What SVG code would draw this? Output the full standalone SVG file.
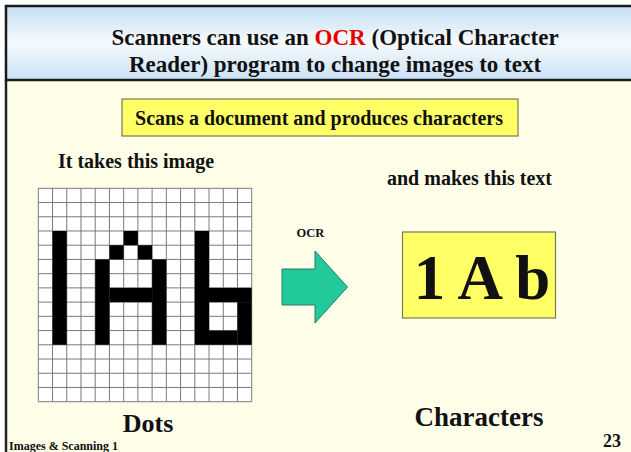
<svg xmlns="http://www.w3.org/2000/svg" width="631" height="452" viewBox="0 0 631 452">
  <defs>
    <linearGradient id="titleGrad" x1="0" y1="0" x2="0" y2="1">
      <stop offset="0" stop-color="#c4def4"/>
      <stop offset="0.5" stop-color="#f6fafe"/>
      <stop offset="1" stop-color="#c9e2f6"/>
    </linearGradient>
    <style>
      .t { font-family: "Liberation Serif", "Times New Roman", serif; font-weight: bold; fill: #111; }
      .ybox { fill: #ffff66; stroke: #7a7a50; stroke-width: 1.2; }
      .gridline { stroke: #7a7a7a; stroke-width: 1; fill: none; }
      .dot { fill: #000; }
    </style>
  </defs>

  <rect x="0" y="0" width="631" height="452" fill="#ffffff"/>
  <rect x="6" y="80" width="625" height="372" fill="#fefee9"/>
  <line x1="6" y1="80" x2="6" y2="452" stroke="#222" stroke-width="2.5"/>

  <g id="title">
    <rect x="6" y="6" width="630" height="74" fill="url(#titleGrad)" stroke="#1a1a1a" stroke-width="2.5"/>
    <text class="t" x="335" y="45" font-size="23" text-anchor="middle">Scanners can use an <tspan fill="#e60000">OCR</tspan> (Optical Character</text>
    <text class="t" x="335" y="72" font-size="23" text-anchor="middle">Reader) program to change images to text</text>
  </g>

  <g id="subtitle">
    <rect class="ybox" x="122" y="99" width="396" height="37"/>
    <text class="t" x="319" y="125" font-size="20" text-anchor="middle">Scans a document and produces characters</text>
  </g>

  <g id="label-image">
    <text class="t" x="58" y="168" font-size="20">It takes this image</text>
  </g>

  <g id="label-text">
    <text class="t" x="387" y="185" font-size="20">and makes this text</text>
  </g>

  <g id="dot-grid" transform="translate(38.3,188.3) scale(14.227)">
    <rect x="0" y="0" width="15" height="15" fill="#ffffff"/>
    <path class="gridline" vector-effect="non-scaling-stroke" d="M0 0V15M1 0V15M2 0V15M3 0V15M4 0V15M5 0V15M6 0V15M7 0V15M8 0V15M9 0V15M10 0V15M11 0V15M12 0V15M13 0V15M14 0V15M15 0V15M0 0H15M0 1H15M0 2H15M0 3H15M0 4H15M0 5H15M0 6H15M0 7H15M0 8H15M0 9H15M0 10H15M0 11H15M0 12H15M0 13H15M0 14H15M0 15H15"/>
    <rect class="dot" x="1" y="3" width="1" height="8"/>
    <rect class="dot" x="4" y="5" width="1" height="6"/>
    <rect class="dot" x="8" y="5" width="1" height="6"/>
    <rect class="dot" x="5" y="4" width="1" height="1"/>
    <rect class="dot" x="6" y="3" width="1" height="1"/>
    <rect class="dot" x="7" y="4" width="1" height="1"/>
    <rect class="dot" x="5" y="7" width="3" height="1"/>
    <rect class="dot" x="11" y="3" width="1" height="8"/>
    <rect class="dot" x="12" y="7" width="3" height="1"/>
    <rect class="dot" x="14" y="8" width="1" height="3"/>
    <rect class="dot" x="12" y="10" width="2" height="1"/>
  </g>

  <g id="connectors">
    <polygon points="282,269 315,269 315,251 347.5,287 315,323 315,305 282,305" fill="#22c99b" stroke="#2b7a68" stroke-width="1"/>
    <text class="t" x="310.5" y="237" font-size="12.5" text-anchor="middle">OCR</text>
  </g>

  <g id="result">
    <rect class="ybox" x="402.5" y="232" width="153" height="86"/>
    <text class="t" x="482" y="299" font-size="63" text-anchor="middle">1 A b</text>
  </g>

  <g id="label-dots">
    <text class="t" x="148" y="432" font-size="26" text-anchor="middle">Dots</text>
  </g>

  <g id="label-characters">
    <text class="t" x="479" y="426" font-size="27" text-anchor="middle">Characters</text>
  </g>

  <g id="footer">
    <text class="t" x="9" y="450" font-size="12">Images &amp; Scanning 1</text>
    <text class="t" x="612" y="447" font-size="18" text-anchor="middle">23</text>
  </g>
</svg>
